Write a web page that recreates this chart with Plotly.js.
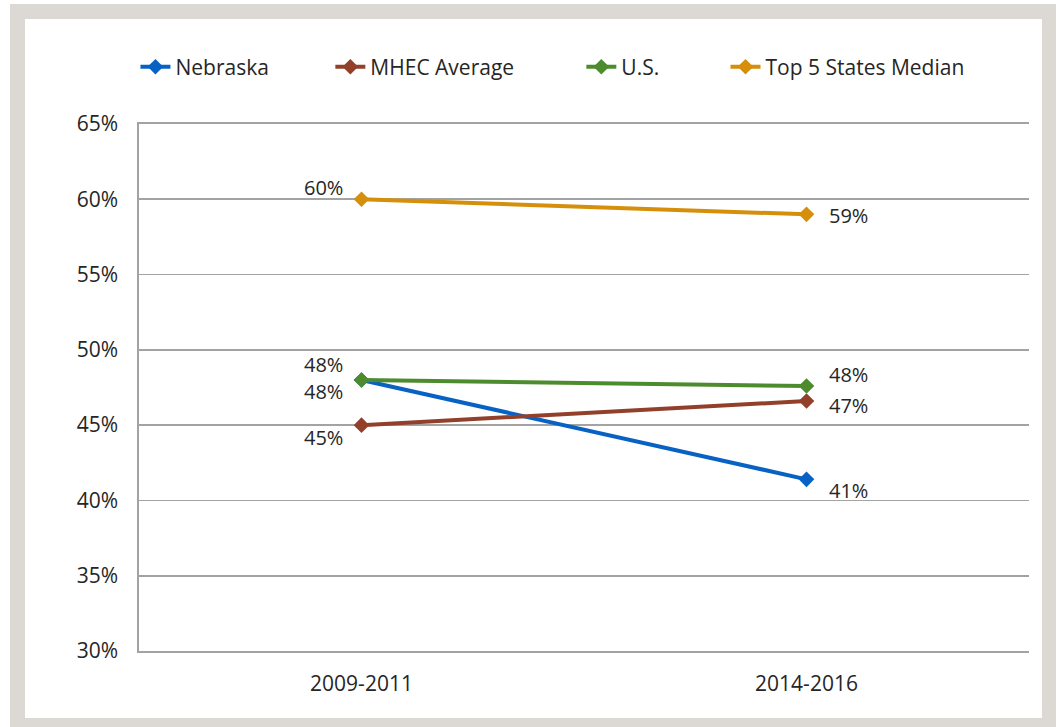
<!DOCTYPE html>
<html>
<head>
<meta charset="utf-8">
<script src="https://cdn.plot.ly/plotly-3.0.1.min.js"></script>
<style>
  html, body { margin: 0; padding: 0; background: #ffffff; width: 1060px; height: 727px; overflow: hidden; }
  #frame { position: absolute; left: 10px; top: 4px; width: 1046px; height: 723px; background: #dcd8d4; }
  #chart { position: absolute; left: 15px; top: 15px; width: 1017px; height: 699px; background: #ffffff; }
</style>
</head>
<body>
<div id="frame"><div id="chart"></div></div>
<script>
const categories = ["2009-2011", "2014-2016"];
const seriesNames = ["Nebraska", "MHEC Average", "U.S.", "Top 5 States Median"];
const nebraska = [48.0, 41.4];
const mhec = [45.0, 46.6];
const us = [48.0, 47.6];
const top5 = [60.0, 59.0];
const nebraskaLabels = ["48%", "41%"];
const mhecLabels = ["45%", "47%"];
const usLabels = ["48%", "48%"];
const top5Labels = ["60%", "59%"];
const yTickVals = [30, 35, 40, 45, 50, 55, 60, 65];
const yTickText = ["30%", "35%", "40%", "45%", "50%", "55%", "60%", "65%"];

const colors = ["#0862c4", "#93402a", "#4d8c2e", "#d68f0a"];
const values = [nebraska, mhec, us, top5];
const labels = [nebraskaLabels, mhecLabels, usLabels, top5Labels];
const fontFam = "Open Sans, Liberation Sans, sans-serif";
const textColor = "#262626";
const legendIds = ["legend", "legend2", "legend3", "legend4"];
const legendX = [-0.004, 0.215, 0.497, 0.659];

const traces = values.map((v, i) => ({
  type: "scatter",
  mode: "lines+markers",
  name: seriesNames[i],
  legend: legendIds[i],
  x: categories,
  y: v,
  line: { color: colors[i], width: 4 },
  marker: { symbol: "diamond", size: 12, color: colors[i] },
  hoverinfo: "skip"
}));

const shifts = [
  [-12, -11],
  [-12, -4],
  [15, 11],
  [12, -1]
];
const annotations = [];
values.forEach((v, i) => {
  v.forEach((val, j) => {
    annotations.push({
      xref: "x", yref: "y",
      x: categories[j], y: val,
      text: labels[i][j],
      showarrow: false,
      xanchor: j === 0 ? "right" : "left",
      yanchor: "middle",
      xshift: j === 0 ? -17 : 20,
      yshift: shifts[i][j],
      font: { family: fontFam, size: 20, color: textColor }
    });
  });
});

const layout = {
  width: 1017,
  height: 699,
  margin: { l: 114, r: 13, t: 105, b: 67 },
  paper_bgcolor: "#ffffff",
  plot_bgcolor: "#ffffff",
  font: { family: fontFam, size: 21, color: textColor },
  showlegend: true,
  xaxis: {
    type: "category",
    range: [-0.5, 1.5],
    showgrid: false,
    zeroline: false,
    showline: true,
    mirror: true,
    linecolor: "#a3a3a3",
    linewidth: 1.6,
    ticks: "outside",
    ticklen: 13,
    tickcolor: "rgba(0,0,0,0)",
    tickfont: { family: fontFam, size: 21, color: textColor },
    fixedrange: true
  },
  yaxis: {
    range: [30, 65],
    tickvals: yTickVals,
    ticktext: yTickText,
    showgrid: true,
    gridcolor: "#a3a3a3",
    gridwidth: 1.6,
    zeroline: false,
    showline: true,
    linecolor: "#a3a3a3",
    linewidth: 1.6,
    ticks: "outside",
    ticklen: 15,
    tickcolor: "rgba(0,0,0,0)",
    tickfont: { family: fontFam, size: 21, color: textColor },
    fixedrange: true
  },
  annotations: annotations
};
legendIds.forEach((id, i) => {
  layout[id] = {
    orientation: "h",
    x: legendX[i], xanchor: "left",
    y: 1.108, yanchor: "middle",
    font: { family: fontFam, size: 21, color: textColor },
    bgcolor: "rgba(0,0,0,0)"
  };
});

Plotly.newPlot("chart", traces, layout, { displayModeBar: false, staticPlot: true });
</script>
</body>
</html>
